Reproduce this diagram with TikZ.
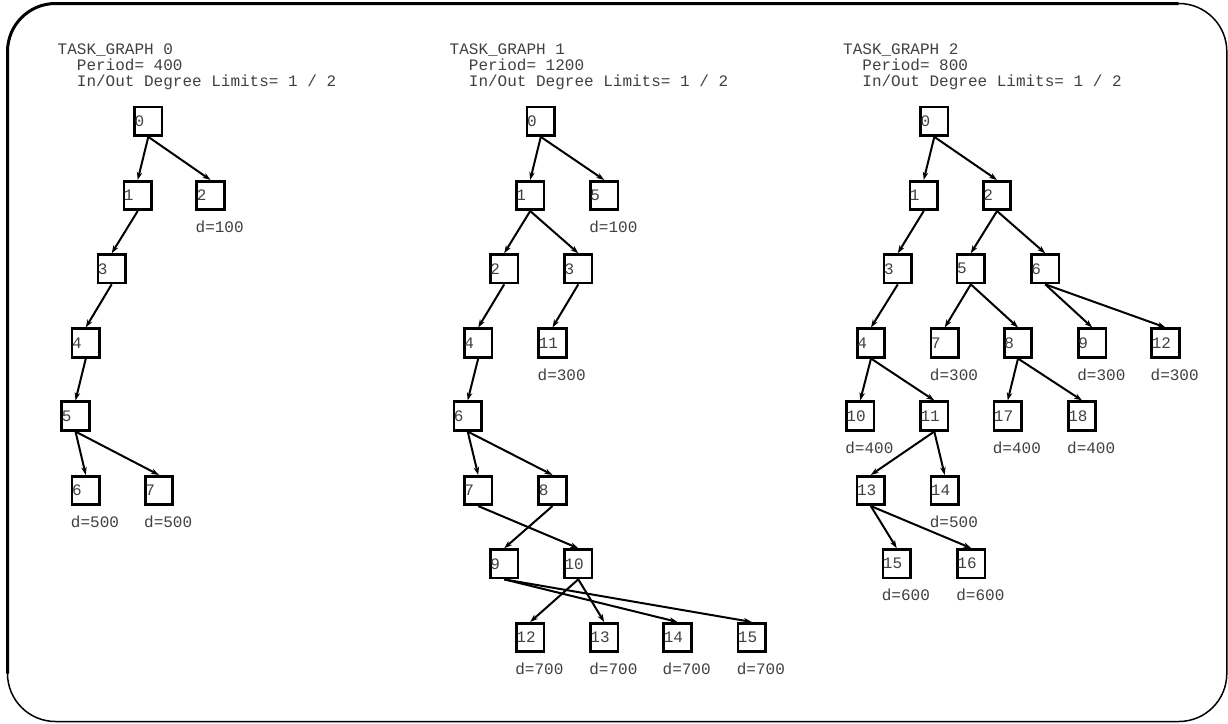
\documentclass[tikz,border=0pt]{standalone}
\usepackage{fontspec}
\newfontfamily\tgmono{Liberation Mono}
\usetikzlibrary{arrows.meta,calc}
\begin{document}
\begin{tikzpicture}[x=1pt,y=-1pt,
  task/.style={draw=black, line width=2.6pt, minimum width=27.5pt, minimum height=28.5pt,
    text width=27.5pt, inner xsep=0pt, inner ysep=0pt, align=left,
    font=\tgmono\fontsize{16}{16}\selectfont, text=black!75},
  edge/.style={line width=2pt, -{Stealth[length=8pt,width=5.5pt]}},
  txt/.style={anchor=base west, inner sep=0pt, font=\tgmono\fontsize{16}{16}\selectfont, text=black!75},
  dl/.style={txt},
]
\useasboundingbox (0,0) rectangle (1228,723);
% frame
\draw[line width=1.5pt, rounded corners=48pt] (7.5,3.5) rectangle (1226.8,721.5);
\draw[line width=3pt, rounded corners=48pt] (7.5,673.5) -- (7.5,3.5) -- (1178.5,3.5);

% ---------- TASK_GRAPH 0 ----------
\node[txt] (h0a) at (57.5,54.5) {TASK\_GRAPH 0};
\node[txt] (h0b) at (76.7,70.5) {Period= 400};
\node[txt] (h0c) at (76.7,86.5) {In/Out Degree Limits= 1 / 2};

\node[task] (a0) at (148.3,121.3) {0};
\node[task] (a1) at (137.7,195.5) {1};
\node[task] (a2) at (210.5,195.5) {2};
\node[task] (a3) at (111.7,268.8) {3};
\node[task] (a4) at (85.8,343) {4};
\node[task] (a5) at (75.5,416) {5};
\node[task] (a6) at (85.8,490.5) {6};
\node[task] (a7) at (159,490.5) {7};

\draw[edge] (a0.south) -- (a1.north);
\draw[edge] (a0.south) -- (a2.north);
\draw[edge] (a1.south) -- (a3.north);
\draw[edge] (a3.south) -- (a4.north);
\draw[edge] (a4.south) -- (a5.north);
\draw[edge] (a5.south) -- (a6.north);
\draw[edge] (a5.south) -- (a7.north);

\node[dl] (da2) at ($(a2.south west)+(0,21.5)$) {d=100};
\node[dl] (da6) at ($(a6.south west)+(0,21.5)$) {d=500};
\node[dl] (da7) at ($(a7.south west)+(0,21.5)$) {d=500};

% ---------- TASK_GRAPH 1 ----------
\node[txt] (h1a) at (449.5,54.5) {TASK\_GRAPH 1};
\node[txt] (h1b) at (468.7,70.5) {Period= 1200};
\node[txt] (h1c) at (468.7,86.5) {In/Out Degree Limits= 1 / 2};

\node[task] (b0) at (540.8,121.3) {0};
\node[task] (b1) at (530.2,195.5) {1};
\node[task] (b5) at (604.2,195.5) {5};
\node[task] (b2) at (504.2,268.8) {2};
\node[task] (b3) at (578.3,268.8) {3};
\node[task] (b4) at (478.2,343) {4};
\node[task] (b11) at (552.5,343) {11};
\node[task] (b6) at (467.7,416) {6};
\node[task] (b7) at (478.2,490.5) {7};
\node[task] (b8) at (552.5,490.5) {8};
\node[task] (b9) at (504.2,563.8) {9};
\node[task] (b10) at (578.3,563.8) {10};
\node[task] (b12) at (530.2,637.5) {12};
\node[task] (b13) at (604.2,637.5) {13};
\node[task] (b14) at (677.5,637.5) {14};
\node[task] (b15) at (751.7,637.5) {15};

\draw[edge] (b0.south) -- (b1.north);
\draw[edge] (b0.south) -- (b5.north);
\draw[edge] (b1.south) -- (b2.north);
\draw[edge] (b1.south) -- (b3.north);
\draw[edge] (b2.south) -- (b4.north);
\draw[edge] (b3.south) -- (b11.north);
\draw[edge] (b4.south) -- (b6.north);
\draw[edge] (b6.south) -- (b7.north);
\draw[edge] (b6.south) -- (b8.north);
\draw[edge] (b7.south) -- (b10.north);
\draw[edge] (b8.south) -- (b9.north);
\draw[edge] (b9.south) -- (b14.north);
\draw[edge] (b9.south) -- (b15.north);
\draw[edge] (b10.south) -- (b12.north);
\draw[edge] (b10.south) -- (b13.north);

\node[dl] (db5) at ($(b5.south west)+(0,21.5)$) {d=100};
\node[dl] (db11) at ($(b11.south west)+(0,21.5)$) {d=300};
\node[dl] (db12) at ($(b12.south west)+(0,21.5)$) {d=700};
\node[dl] (db13) at ($(b13.south west)+(0,21.5)$) {d=700};
\node[dl] (db14) at ($(b14.south west)+(0,21.5)$) {d=700};
\node[dl] (db15) at ($(b15.south west)+(0,21.5)$) {d=700};

% ---------- TASK_GRAPH 2 ----------
\node[txt] (h2a) at (843,54.5) {TASK\_GRAPH 2};
\node[txt] (h2b) at (862.2,70.5) {Period= 800};
\node[txt] (h2c) at (862.2,86.5) {In/Out Degree Limits= 1 / 2};

\node[task] (c0) at (934.3,121.3) {0};
\node[task] (c1) at (923.7,195.5) {1};
\node[task] (c2) at (997,195.5) {2};
\node[task] (c3) at (897.8,268.8) {3};
\node[task] (c5) at (970.8,268.8) {5};
\node[task] (c6) at (1045.2,268.8) {6};
\node[task] (c4) at (871,343) {4};
\node[task] (c7) at (944.8,343) {7};
\node[task] (c8) at (1018,343) {8};
\node[task] (c9) at (1092.2,343) {9};
\node[task] (c12) at (1165.5,343) {12};
\node[task] (c10) at (860.2,416) {10};
\node[task] (c11) at (934.3,416) {11};
\node[task] (c17) at (1007.7,416) {17};
\node[task] (c18) at (1082,416) {18};
\node[task] (c13) at (870.8,490.5) {13};
\node[task] (c14) at (944.7,490.5) {14};
\node[task] (c15) at (896.7,563.7) {15};
\node[task] (c16) at (971.2,563.7) {16};

\draw[edge] (c0.south) -- (c1.north);
\draw[edge] (c0.south) -- (c2.north);
\draw[edge] (c1.south) -- (c3.north);
\draw[edge] (c2.south) -- (c5.north);
\draw[edge] (c2.south) -- (c6.north);
\draw[edge] (c3.south) -- (c4.north);
\draw[edge] (c5.south) -- (c7.north);
\draw[edge] (c5.south) -- (c8.north);
\draw[edge] (c6.south) -- (c9.north);
\draw[edge] (c6.south) -- (c12.north);
\draw[edge] (c4.south) -- (c10.north);
\draw[edge] (c4.south) -- (c11.north);
\draw[edge] (c8.south) -- (c17.north);
\draw[edge] (c8.south) -- (c18.north);
\draw[edge] (c11.south) -- (c13.north);
\draw[edge] (c11.south) -- (c14.north);
\draw[edge] (c13.south) -- (c15.north);
\draw[edge] (c13.south) -- (c16.north);

\node[dl] (dc7) at ($(c7.south west)+(0,21.5)$) {d=300};
\node[dl] (dc9) at ($(c9.south west)+(0,21.5)$) {d=300};
\node[dl] (dc12) at ($(c12.south west)+(0,21.5)$) {d=300};
\node[dl] (dc10) at ($(c10.south west)+(0,21.5)$) {d=400};
\node[dl] (dc17) at ($(c17.south west)+(0,21.5)$) {d=400};
\node[dl] (dc18) at ($(c18.south west)+(0,21.5)$) {d=400};
\node[dl] (dc14) at ($(c14.south west)+(0,21.5)$) {d=500};
\node[dl] (dc15) at ($(c15.south west)+(0,21.5)$) {d=600};
\node[dl] (dc16) at ($(c16.south west)+(0,21.5)$) {d=600};
\end{tikzpicture}
\end{document}
